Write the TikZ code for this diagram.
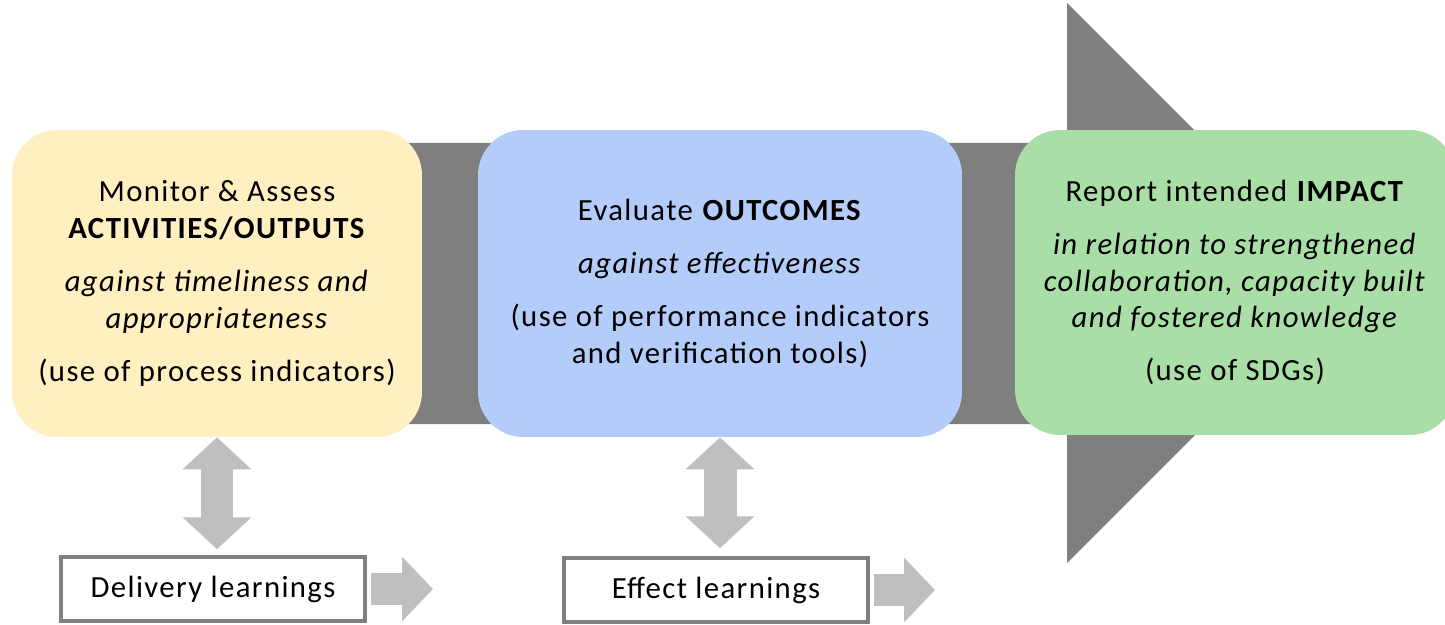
\documentclass[tikz,border=0pt]{standalone}
\usepackage{fontspec}
\setmainfont[LetterSpace=4.5]{Carlito}
\usepackage{xcolor}
\usetikzlibrary{arrows.meta}

\definecolor{bandgray}{HTML}{7F7F7F}
\definecolor{tipgray}{HTML}{BFBFBF}
\definecolor{framegray}{HTML}{808080}
\definecolor{stageyellow}{HTML}{FFEFC1}
\definecolor{stageblue}{HTML}{B4CCFA}
\definecolor{stagegreen}{HTML}{A9DFA6}

\tikzset{
  stagebox/.style={rounded corners=0.9cm, inner sep=0pt, align=center,
    minimum height=6.14cm, font=\fontsize{17.5}{21}\selectfont},
  learnbox/.style={draw=framegray, line width=0.07cm, fill=white, inner sep=0pt,
    minimum width=6.08cm, minimum height=1.28cm, font=\fontsize{17.5}{21}\selectfont},
  fatarrow/.style={tipgray, line width=0.66cm, -{Triangle[length=0.62cm, width=1.26cm]}},
  twoway/.style={tipgray, line width=0.66cm,
    {Triangle[length=0.64cm, width=1.34cm]}-{Triangle[length=0.64cm, width=1.34cm]}}
}

\begin{document}
\begin{tikzpicture}[x=0.02cm, y=-0.02cm]
                \useasboundingbox (0,0) rectangle (1445,625);
                % big arrow behind the stages
                \fill[bandgray] (405,143) -- (1067,143) -- (1067,3) -- (1347,283)
                    -- (1067,563) -- (1067,424) -- (405,424) -- cycle;
                \node[stagebox, fill=stageyellow, minimum width=8.2cm] (monitor) at (217,283.5)
                    {Monitor \& Assess\\ \textbf{ACTIVITIES/OUTPUTS}\\[9pt]
                     \textit{against timeliness and}\\ \textit{appropriateness}\\[9pt]
                     (use of process indicators)};
                \node[stagebox, fill=stageblue, minimum width=9.68cm] (evaluate) at (720,283.5)
                    {Evaluate \textbf{OUTCOMES}\\[9pt] \textit{against effectiveness}\\[9pt]
                     (use of performance indicators\\ and verification tools)};
                \node[stagebox, fill=stagegreen, minimum width=8.8cm, minimum height=6.1cm] (report) at (1235,282.5)
                    {Report intended \textbf{IMPACT}\\[9pt]
                     \textit{in relation to strengthened}\\ \textit{collaboration, capacity built}\\
                     \textit{and fostered knowledge}\\[9pt] (use of SDGs)};
                \node[learnbox] (delivery) at (213,589) {Delivery learnings};
                \node[learnbox] (effect) at (716,590) {Effect learnings};
                \coordinate (dtip) at (433,589);
                \coordinate (etip) at (935,590);
                \draw[twoway, shorten >=0.12cm] (monitor.south) -- (monitor.south |- delivery.north);
                \draw[twoway, shorten >=0.16cm] (evaluate.south) -- (evaluate.south |- effect.north);
                \draw[fatarrow, shorten <=0.08cm] (delivery.east) -- (dtip);
                \draw[fatarrow, shorten <=0.08cm] (effect.east) -- (etip);
            \end{tikzpicture}
\end{document}
